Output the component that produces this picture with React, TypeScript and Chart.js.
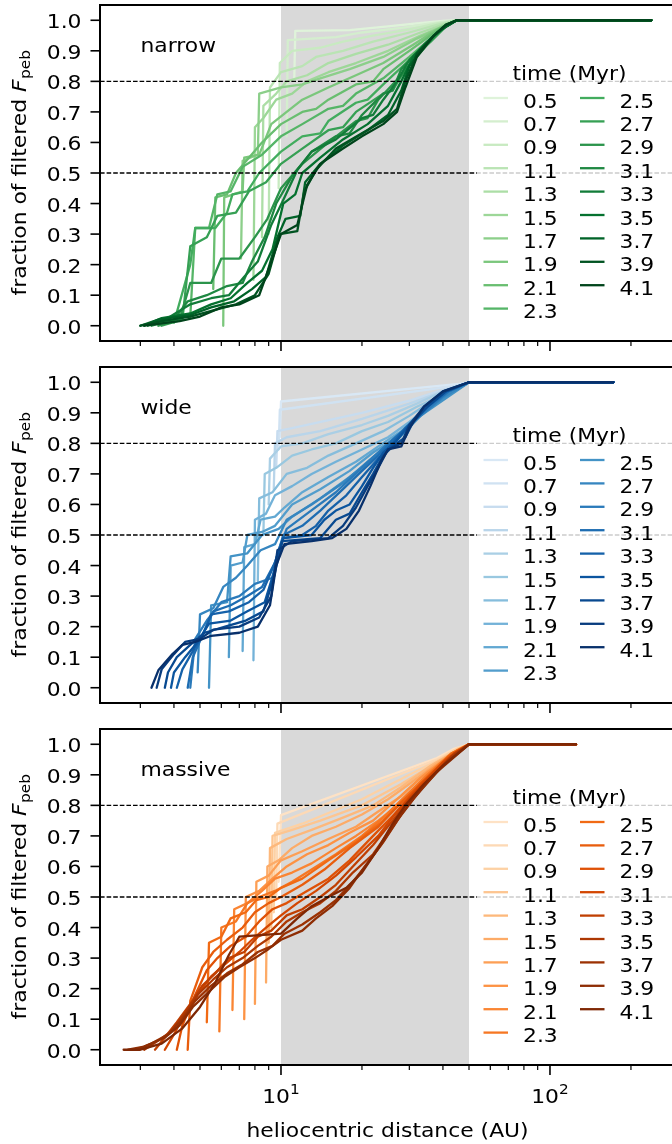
import React, { useEffect, useRef } from "react";
import { Chart, registerables } from "chart.js";
Chart.register(...registerables);

// ---------------- data ----------------
const times = ["0.5","0.7","0.9","1.1","1.3","1.5","1.7","1.9","2.1","2.3","2.5","2.7","2.9","3.1","3.3","3.5","3.7","3.9","4.1"];
const panelNames = ["narrow", "wide", "massive"];
const yTicks = [0, 0.1, 0.2, 0.3, 0.4, 0.5, 0.6, 0.7, 0.8, 0.9, 1.0];
const yTickLabels = ["0.0","0.1","0.2","0.3","0.4","0.5","0.6","0.7","0.8","0.9","1.0"];
const xMajorTicks = [10, 100];
const xMajorExp = ["1", "2"];
const xMinorTicks = [3, 4, 5, 6, 7, 8, 9, 20, 30, 40, 50, 60, 70, 80, 90, 200];
const refLines = [0.8, 0.5];
const shadeRange = [10, 50];
const legendTitle = "time (Myr)";
const xTitle = "heliocentric distance (AU)";

const narrowCurves = [
  [[11.2,0.80],[11.3,0.965],[18,0.968],[25,0.98],[32,0.99],[40,0.998],[45,1],[238,1]],
  [[10.5,0.62],[10.6,0.935],[16,0.945],[20,0.96],[28,0.975],[36,0.99],[44,1],[238,1]],
  [[9.8,0.45],[9.9,0.86],[11,0.90],[14,0.91],[17,0.93],[22,0.95],[30,0.97],[38,0.99],[45,1],[238,1]],
  [[9.0,0.30],[9.1,0.78],[10,0.83],[12,0.85],[13.5,0.88],[17,0.90],[22,0.93],[30,0.96],[38,0.985],[45,1],[238,1]],
  [[8.5,0.29],[8.6,0.72],[9.6,0.76],[10.5,0.80],[12.5,0.82],[15,0.86],[19,0.89],[25,0.92],[33,0.96],[40,0.985],[45,1],[238,1]],
  [[7.9,0.15],[8.0,0.65],[8.6,0.68],[9.6,0.74],[11,0.76],[12.5,0.80],[15,0.83],[19,0.86],[25,0.90],[33,0.95],[40,0.98],[45,1],[238,1]],
  [[7.1,0.22],[7.2,0.54],[8.2,0.56],[8.3,0.76],[10,0.78],[12,0.79],[14,0.81],[18,0.84],[24,0.88],[32,0.94],[40,0.98],[45,1],[238,1]],
  [[6.1,0.0],[6.15,0.42],[7.2,0.44],[7.3,0.55],[8.3,0.56],[9.2,0.66],[10.5,0.70],[12,0.74],[15,0.78],[19,0.82],[24,0.86],[31,0.92],[38,0.97],[45,1],[238,1]],
  [[5.6,0.12],[5.7,0.42],[6.3,0.43],[6.8,0.50],[7.6,0.55],[8.5,0.60],[10,0.66],[12,0.70],[13.5,0.71],[15,0.74],[19,0.79],[22,0.80],[24,0.84],[30,0.90],[36,0.95],[41,0.985],[45,1],[238,1]],
  [[4.6,0.03],[4.8,0.32],[5.4,0.32],[5.8,0.43],[6.5,0.44],[7.2,0.52],[8.5,0.56],[10,0.62],[12,0.66],[15,0.71],[17,0.72],[19,0.76],[24,0.81],[30,0.88],[36,0.94],[41,0.985],[45,1],[238,1]],
  [[4.0,0.01],[4.6,0.20],[4.8,0.32],[5.7,0.32],[6.3,0.37],[6.6,0.43],[7.5,0.44],[8.3,0.50],[10,0.57],[12,0.62],[14,0.63],[15,0.67],[19,0.73],[21,0.74],[24,0.79],[30,0.87],[36,0.93],[41,0.98],[45,1],[238,1]],
  [[3.6,0.0],[4.3,0.02],[4.6,0.26],[5.3,0.29],[5.8,0.36],[6.8,0.37],[7.6,0.44],[8.8,0.47],[10,0.53],[12,0.58],[15,0.64],[17,0.65],[19,0.70],[24,0.76],[26,0.77],[29,0.84],[35,0.92],[41,0.98],[45,1],[238,1]],
  [[3.5,0.0],[4.2,0.02],[4.6,0.14],[5.5,0.14],[6,0.22],[7,0.22],[8,0.29],[8.9,0.35],[10,0.45],[12,0.53],[15,0.60],[19,0.67],[21,0.68],[23,0.74],[28,0.82],[34,0.91],[40,0.975],[45,1],[238,1]],
  [[3.3,0.0],[4.0,0.02],[4.5,0.08],[5.3,0.10],[6.3,0.13],[7.2,0.14],[7.8,0.21],[8.7,0.29],[9.6,0.40],[11,0.49],[13,0.57],[16,0.62],[18,0.63],[20,0.69],[24,0.76],[26,0.77],[28,0.84],[34,0.92],[40,0.975],[45,1],[238,1]],
  [[3.2,0.0],[3.8,0.025],[4.6,0.07],[5.5,0.09],[6.4,0.10],[7.3,0.16],[8.2,0.21],[9.2,0.33],[10.3,0.42],[11.5,0.51],[13,0.57],[16,0.61],[20,0.68],[22,0.69],[24,0.74],[27,0.80],[30,0.87],[35,0.93],[40,0.975],[45,1],[238,1]],
  [[3.1,0.0],[3.6,0.025],[4.6,0.04],[5.5,0.07],[6.5,0.09],[7.5,0.14],[8.5,0.18],[9.3,0.25],[10.2,0.40],[11.3,0.43],[12,0.50],[14,0.55],[17,0.61],[21,0.66],[25,0.72],[28,0.80],[31,0.88],[36,0.94],[41,0.98],[45,1],[238,1]],
  [[3.0,0.0],[3.5,0.02],[4.6,0.035],[5.5,0.06],[6.7,0.08],[7.8,0.12],[8.8,0.16],[9.7,0.29],[10.4,0.35],[11.8,0.36],[12.3,0.47],[14,0.53],[17,0.59],[21,0.64],[25,0.69],[28,0.77],[30,0.85],[33,0.90],[38,0.96],[45,1],[238,1]],
  [[3.0,0.0],[3.6,0.015],[4.6,0.03],[5.6,0.05],[6.8,0.07],[8,0.10],[9,0.17],[9.9,0.30],[11.5,0.31],[12.2,0.44],[13.5,0.51],[16,0.58],[20,0.63],[24,0.67],[27,0.71],[29,0.80],[32,0.89],[37,0.95],[41,0.985],[45,1],[238,1]],
  [[3.1,0.0],[4.2,0.015],[5,0.03],[6,0.06],[7,0.07],[8.3,0.10],[9.2,0.21],[10,0.30],[11.5,0.33],[12.5,0.46],[14,0.53],[17,0.58],[20,0.62],[24,0.66],[27,0.70],[29,0.78],[32,0.88],[37,0.95],[41,0.985],[45,1],[238,1]],
];

const wideCurves = [
  [[9.9,0.82],[10,0.937],[46,0.995],[50,1],[172,1]],
  [[9.8,0.78],[9.9,0.91],[46,0.99],[50,1],[172,1]],
  [[9.6,0.72],[9.7,0.84],[11,0.85],[20,0.90],[30,0.94],[40,0.975],[50,1],[172,1]],
  [[9.4,0.65],[9.5,0.80],[10.5,0.82],[14,0.84],[20,0.88],[30,0.93],[40,0.97],[50,1],[172,1]],
  [[9.0,0.60],[9.1,0.75],[10,0.79],[12,0.80],[15,0.83],[20,0.86],[25,0.89],[32,0.93],[40,0.97],[50,1],[172,1]],
  [[8.6,0.50],[8.7,0.70],[9.6,0.72],[11,0.76],[13,0.78],[16,0.80],[20,0.84],[25,0.87],[32,0.92],[40,0.96],[50,1],[172,1]],
  [[8.2,0.35],[8.3,0.62],[9.3,0.64],[10.5,0.70],[12.5,0.72],[15,0.76],[19,0.80],[24,0.84],[30,0.89],[38,0.95],[50,1],[172,1]],
  [[7.9,0.09],[8.0,0.55],[8.8,0.57],[9.5,0.63],[11,0.66],[13,0.70],[16,0.74],[20,0.78],[25,0.82],[30,0.87],[38,0.94],[50,1],[172,1]],
  [[7.2,0.12],[7.3,0.46],[8.0,0.47],[8.4,0.55],[9.5,0.56],[10.3,0.59],[12,0.64],[15,0.69],[19,0.74],[23,0.79],[28,0.84],[35,0.92],[50,1],[172,1]],
  [[6.4,0.10],[6.5,0.40],[7.2,0.41],[7.5,0.50],[8.5,0.51],[9.5,0.53],[11,0.60],[14,0.65],[18,0.71],[22,0.77],[27,0.82],[33,0.90],[50,1],[172,1]],
  [[5.4,0.0],[5.5,0.27],[6.3,0.28],[6.5,0.43],[7.5,0.44],[8.5,0.50],[9.8,0.52],[11,0.56],[14,0.62],[18,0.69],[22,0.75],[27,0.81],[33,0.89],[50,1],[172,1]],
  [[4.9,0.05],[5.0,0.24],[5.6,0.26],[6.1,0.33],[6.8,0.36],[7.5,0.40],[8.4,0.45],[9.5,0.47],[10.5,0.55],[13,0.60],[17,0.67],[21,0.74],[26,0.81],[32,0.88],[40,0.95],[50,1],[172,1]],
  [[4.6,0.0],[4.8,0.16],[5.3,0.22],[6.0,0.28],[7.0,0.30],[8,0.34],[9.3,0.36],[9.8,0.45],[10.5,0.52],[12.5,0.57],[16,0.64],[20,0.72],[25,0.80],[30,0.86],[36,0.92],[42,0.97],[50,1],[172,1]],
  [[4.5,0.0],[4.7,0.10],[5.1,0.17],[5.6,0.25],[6.5,0.27],[7.5,0.30],[8.5,0.33],[9.5,0.41],[10.2,0.50],[12,0.53],[14,0.58],[17,0.65],[20,0.71],[23,0.76],[26,0.81],[30,0.86],[35,0.92],[42,0.97],[50,1],[172,1]],
  [[4.1,0.0],[4.3,0.06],[4.7,0.12],[5.1,0.17],[5.5,0.24],[6.4,0.25],[7.6,0.28],[8.6,0.32],[9.4,0.40],[10.2,0.49],[12,0.50],[13.5,0.53],[15,0.58],[17.5,0.63],[20,0.69],[23,0.75],[26,0.80],[29,0.85],[34,0.91],[41,0.97],[50,1],[172,1]],
  [[3.9,0.0],[4.0,0.05],[4.4,0.10],[4.9,0.15],[5.4,0.21],[6.5,0.22],[7.5,0.25],[8.7,0.28],[9.5,0.39],[10.2,0.49],[13,0.50],[14.5,0.55],[16,0.58],[18,0.60],[20,0.66],[22,0.72],[24,0.77],[27,0.81],[30,0.86],[35,0.92],[41,0.97],[50,1],[172,1]],
  [[3.7,0.0],[3.8,0.05],[4.1,0.10],[4.6,0.14],[5.2,0.18],[6.2,0.20],[7.4,0.22],[8.6,0.25],[9.4,0.36],[10.1,0.48],[14,0.49],[16,0.55],[18,0.57],[20,0.64],[22,0.70],[24,0.76],[26,0.79],[29,0.82],[31,0.87],[35,0.92],[41,0.97],[50,1],[172,1]],
  [[3.45,0.0],[3.6,0.06],[4.0,0.11],[4.4,0.15],[5.0,0.16],[5.6,0.19],[7.0,0.20],[8.3,0.23],[9.2,0.30],[9.7,0.45],[11,0.48],[15,0.49],[17,0.53],[19,0.59],[21,0.66],[23,0.72],[25,0.78],[28,0.80],[30,0.86],[34,0.92],[40,0.97],[50,1],[172,1]],
  [[3.3,0.0],[3.5,0.057],[3.95,0.11],[4.3,0.14],[4.8,0.15],[5.5,0.17],[7,0.18],[8.2,0.20],[9.1,0.27],[9.6,0.40],[10.3,0.47],[13,0.48],[15.5,0.49],[17.5,0.52],[19.5,0.58],[21.5,0.66],[23.5,0.74],[25,0.78],[28,0.79],[30,0.85],[34,0.92],[40,0.97],[50,1],[172,1]],
];

const massiveCurves = [
  [[9.8,0.55],[10,0.768],[38,0.955],[44,0.985],[50,1],[125,1]],
  [[9.6,0.50],[9.7,0.74],[38,0.95],[44,0.98],[50,1],[125,1]],
  [[9.4,0.45],[9.5,0.71],[12,0.74],[20,0.82],[30,0.90],[38,0.945],[45,0.985],[50,1],[125,1]],
  [[9.2,0.40],[9.3,0.70],[11,0.72],[14,0.75],[20,0.80],[28,0.87],[37,0.935],[45,0.98],[50,1],[125,1]],
  [[9.0,0.35],[9.1,0.66],[10.5,0.69],[13,0.72],[17,0.76],[22,0.80],[28,0.86],[36,0.93],[45,0.98],[50,1],[125,1]],
  [[8.8,0.22],[8.9,0.60],[9.8,0.62],[11,0.66],[13,0.70],[16,0.73],[20,0.77],[25,0.82],[30,0.87],[37,0.93],[45,0.98],[50,1],[125,1]],
  [[8.0,0.15],[8.1,0.55],[9,0.57],[10,0.62],[12,0.65],[15,0.69],[19,0.73],[23,0.78],[28,0.83],[35,0.91],[44,0.97],[50,1],[125,1]],
  [[7.3,0.10],[7.4,0.50],[8.3,0.52],[9.3,0.56],[10.5,0.60],[12.5,0.64],[15,0.67],[18,0.71],[22,0.75],[27,0.82],[33,0.89],[42,0.96],[50,1],[125,1]],
  [[6.6,0.13],[6.7,0.46],[7.5,0.48],[8.5,0.52],[9.5,0.56],[11,0.58],[13,0.61],[16,0.66],[19,0.70],[23,0.75],[28,0.81],[34,0.88],[42,0.96],[50,1],[125,1]],
  [[5.9,0.06],[6.0,0.40],[6.8,0.42],[7.5,0.48],[8.3,0.50],[9.5,0.52],[11,0.55],[13,0.59],[16,0.64],[20,0.70],[24,0.76],[29,0.83],[35,0.90],[43,0.97],[50,1],[125,1]],
  [[5.3,0.09],[5.4,0.35],[6.0,0.37],[6.5,0.43],[7.4,0.45],[8.1,0.49],[9,0.50],[10,0.53],[12,0.56],[15,0.62],[19,0.68],[24,0.75],[29,0.82],[35,0.89],[43,0.97],[50,1],[125,1]],
  [[4.5,0.0],[4.6,0.16],[5.1,0.27],[5.6,0.32],[6.3,0.36],[7.2,0.40],[8,0.45],[9,0.48],[10,0.50],[12,0.54],[14.5,0.59],[18,0.66],[23,0.73],[28,0.81],[34,0.88],[42,0.96],[50,1],[125,1]],
  [[4.1,0.0],[4.3,0.08],[4.8,0.18],[5.3,0.26],[5.8,0.30],[6.5,0.34],[7.4,0.37],[8.3,0.42],[9.3,0.46],[10.5,0.48],[12.5,0.52],[15,0.56],[18,0.62],[22,0.70],[27,0.78],[33,0.87],[41,0.95],[50,1],[125,1]],
  [[3.7,0.0],[4.0,0.05],[4.4,0.12],[4.9,0.18],[5.5,0.24],[6.2,0.28],[7,0.32],[7.8,0.36],[8.8,0.40],[10,0.44],[11.5,0.48],[13.5,0.52],[16,0.57],[19,0.63],[23,0.70],[27,0.78],[32,0.85],[40,0.94],[50,1],[125,1]],
  [[3.4,0.0],[3.7,0.04],[4.1,0.09],[4.6,0.15],[5.1,0.21],[5.7,0.25],[6.4,0.30],[7.3,0.32],[8.2,0.37],[9.2,0.39],[10.5,0.44],[12,0.46],[14,0.50],[16,0.54],[18.5,0.60],[22,0.67],[26,0.75],[30,0.82],[36,0.89],[44,0.97],[50,1],[125,1]],
  [[3.1,0.0],[3.5,0.03],[3.9,0.06],[4.4,0.12],[4.9,0.18],[5.6,0.23],[6.3,0.27],[7.2,0.30],[8.2,0.34],[9.2,0.37],[10.5,0.42],[12,0.45],[14,0.48],[16,0.52],[18.5,0.58],[22,0.64],[25,0.71],[29,0.80],[35,0.88],[43,0.96],[50,1],[125,1]],
  [[2.9,0.0],[3.3,0.02],[3.8,0.05],[4.3,0.10],[4.8,0.16],[5.5,0.21],[6.3,0.25],[7.2,0.28],[8.2,0.32],[9.3,0.34],[10.3,0.38],[12,0.41],[14,0.45],[16,0.49],[18.5,0.55],[21,0.61],[24,0.68],[28,0.77],[33,0.85],[41,0.94],[50,1],[125,1]],
  [[2.7,0.0],[3.1,0.01],[3.7,0.04],[4.2,0.08],[4.7,0.14],[5.4,0.19],[6.2,0.24],[7.0,0.27],[8.0,0.30],[9.0,0.33],[10,0.36],[12,0.39],[13.5,0.43],[15.5,0.47],[18,0.53],[20.5,0.60],[23.5,0.67],[27,0.75],[31,0.82],[38,0.91],[50,1],[125,1]],
  [[2.6,0.0],[3.0,0.0],[3.6,0.02],[4.3,0.07],[5.0,0.14],[5.7,0.22],[6.4,0.31],[7.0,0.37],[10,0.38],[11.5,0.43],[13,0.47],[15,0.50],[17.5,0.53],[20,0.58],[23,0.66],[26,0.74],[29,0.80],[34,0.87],[40,0.93],[50,1],[125,1]],
];

// ---------------- style ----------------
const GREENS = ["#f7fcf5","#e5f5e0","#c7e9c0","#a1d99b","#74c476","#41ab5d","#238b45","#006d2c","#00441b"];
const BLUES = ["#f7fbff","#deebf7","#c6dbef","#9ecae1","#6baed6","#4292c6","#2171b5","#08519c","#08306b"];
const ORANGES = ["#fff5eb","#fee6ce","#fdd0a2","#fdae6b","#fd8d3c","#f16913","#d94801","#a63603","#7f2704"];

const CANVAS_W = 680;
const CANVAS_H = 1144;
const PLOT_LEFT = 100;
const PLOT_RIGHT = 675;
const PANEL_TOPS = [5, 367, 729];
const PANEL_BOTTOMS = [341, 703, 1065];
const X_MIN = 2.124;
const X_MAX = 291.6;
const FS = 19;
const SX = 1.15;
const FONT = '"DejaVu Sans", sans-serif';
const LINE_W = 2.3;

function hexToRgb(h: string) {
  return [parseInt(h.slice(1, 3), 16), parseInt(h.slice(3, 5), 16), parseInt(h.slice(5, 7), 16)];
}
function cmap(stops: string[], t: number) {
  const n = stops.length - 1;
  const p = Math.min(Math.max(t, 0), 1) * n;
  const i = Math.min(Math.floor(p), n - 1);
  const f = p - i;
  const a = hexToRgb(stops[i]);
  const b = hexToRgb(stops[i + 1]);
  const c = a.map((v, k) => Math.round(v + (b[k] - v) * f));
  return `rgb(${c[0]},${c[1]},${c[2]})`;
}

function drawText(ctx: CanvasRenderingContext2D, s: string, x: number, y: number, font: string, align: CanvasTextAlign = "left", rot = 0) {
  ctx.save();
  ctx.translate(x, y);
  if (rot) ctx.rotate(rot);
  ctx.scale(SX, 1);
  ctx.font = font;
  ctx.textAlign = align;
  ctx.textBaseline = "alphabetic";
  ctx.fillStyle = "#000";
  ctx.fillText(s, 0, 0);
  ctx.restore();
}
function textW(ctx: CanvasRenderingContext2D, s: string, font: string) {
  ctx.save();
  ctx.font = font;
  const w = ctx.measureText(s).width * SX;
  ctx.restore();
  return w;
}

const PANELS = [
  { curves: narrowCurves, stops: GREENS },
  { curves: wideCurves, stops: BLUES },
  { curves: massiveCurves, stops: ORANGES },
];

function makePlugin(pi: number, colors: string[]) {
  const T = PANEL_TOPS[pi];
  const isLast = pi === PANELS.length - 1;
  return {
    id: "panelDeco" + pi,
    beforeDatasetsDraw(chart: any) {
      const { ctx, chartArea: a, scales } = chart;
      const xs = scales.x;
      const x0 = xs.getPixelForValue(shadeRange[0]);
      const x1 = xs.getPixelForValue(shadeRange[1]);
      ctx.save();
      ctx.fillStyle = "#d9d9d9";
      ctx.fillRect(x0, a.top, x1 - x0, a.bottom - a.top);
      ctx.restore();
    },
    afterDatasetsDraw(chart: any) {
      const { ctx, chartArea: a, scales } = chart;
      const xs = scales.x;
      const ys = scales.y;
      const font = `${FS}px ${FONT}`;
      const small = `${(FS * 0.7).toFixed(1)}px ${FONT}`;
      ctx.save();
      // reference lines
      ctx.strokeStyle = "#000";
      ctx.lineWidth = 1.3;
      ctx.setLineDash([4.6, 2]);
      refLines.forEach((v) => {
        const py = ys.getPixelForValue(v);
        ctx.beginPath();
        ctx.moveTo(a.left, py);
        ctx.lineTo(a.right, py);
        ctx.stroke();
      });
      ctx.setLineDash([]);

      // legend
      const lx = 477, ly = T + 53, lw = 215, lh = 268;
      ctx.fillStyle = "rgba(255,255,255,0.8)";
      ctx.beginPath();
      if ((ctx as any).roundRect) (ctx as any).roundRect(lx, ly, lw, lh, 4);
      else ctx.rect(lx, ly, lw, lh);
      ctx.fill();
      drawText(ctx, legendTitle, 569.5, T + 74.5, font, "center");
      times.forEach((lab, i) => {
        const col = i < 10 ? 0 : 1;
        const row = i < 10 ? i : i - 10;
        const hx0 = col === 0 ? 483.5 : 580;
        const tx = col === 0 ? 523 : 619.5;
        const hy = T + 93 + row * 23.4;
        ctx.strokeStyle = colors[i];
        ctx.lineWidth = LINE_W;
        ctx.beginPath();
        ctx.moveTo(hx0, hy);
        ctx.lineTo(hx0 + 24.5, hy);
        ctx.stroke();
        drawText(ctx, lab, tx, T + 102.5 + row * 23.4, font, "left");
      });

      // spines
      ctx.strokeStyle = "#000";
      ctx.lineWidth = 2;
      ctx.strokeRect(a.left, a.top, a.right - a.left, a.bottom - a.top);

      // y ticks
      ctx.lineWidth = 1.6;
      yTicks.forEach((v, k) => {
        const py = ys.getPixelForValue(v);
        ctx.beginPath();
        ctx.moveTo(a.left - 9.5, py);
        ctx.lineTo(a.left, py);
        ctx.stroke();
        drawText(ctx, yTickLabels[k], 81.5, py + 8, font, "right");
      });
      // x ticks
      xMajorTicks.forEach((v, k) => {
        const px = xs.getPixelForValue(v);
        ctx.lineWidth = 1.6;
        ctx.beginPath();
        ctx.moveTo(px, a.bottom);
        ctx.lineTo(px, a.bottom + 10);
        ctx.stroke();
        if (isLast) {
          const wb = textW(ctx, "10", font);
          const ws = textW(ctx, xMajorExp[k], small);
          const left = px - (wb + ws) / 2;
          drawText(ctx, "10", left, 1103, font, "left");
          drawText(ctx, xMajorExp[k], left + wb, 1094, small, "left");
        }
      });
      xMinorTicks.forEach((v) => {
        const px = xs.getPixelForValue(v);
        ctx.lineWidth = 1.2;
        ctx.beginPath();
        ctx.moveTo(px, a.bottom);
        ctx.lineTo(px, a.bottom + 5);
        ctx.stroke();
      });

      // panel name
      drawText(ctx, panelNames[pi], 140.5, T + 47, font, "left");

      // y title
      const cy = (a.top + a.bottom) / 2;
      const p1 = "fraction of filtered ";
      const fI = `italic ${FS}px ${FONT}`;
      const w1 = textW(ctx, p1, font);
      const w2 = textW(ctx, "F", fI);
      const w3 = textW(ctx, "peb", small);
      const tot = w1 + w2 + w3;
      ctx.save();
      ctx.translate(25.5, cy);
      ctx.rotate(-Math.PI / 2);
      drawText(ctx, p1, -tot / 2, 0, font, "left");
      drawText(ctx, "F", -tot / 2 + w1, 0, fI, "left");
      drawText(ctx, "peb", -tot / 2 + w1 + w2 + 0.5, 4.5, small, "left");
      ctx.restore();

      if (isLast) {
        drawText(ctx, xTitle, (PLOT_LEFT + PLOT_RIGHT) / 2, 1137, font, "center");
      }
      ctx.restore();
    },
  };
}

export default function App() {
  const r0 = useRef<HTMLCanvasElement>(null);
  const r1 = useRef<HTMLCanvasElement>(null);
  const r2 = useRef<HTMLCanvasElement>(null);
  const refs = [r0, r1, r2];

  useEffect(() => {
    const charts = PANELS.map((p, pi) => {
      const colors = times.map((_, i) => cmap(p.stops, 0.15 + (0.85 * i) / (times.length - 1)));
      const canvas = refs[pi].current as HTMLCanvasElement;
      return new Chart(canvas, {
        type: "scatter",
        data: {
          datasets: p.curves.map((c, i) => ({
            label: times[i],
            data: c.map(([x, y]) => ({ x, y })),
            showLine: true,
            borderColor: colors[i],
            backgroundColor: colors[i],
            borderWidth: LINE_W,
            borderJoinStyle: "round",
            borderCapStyle: "round",
            pointRadius: 0,
            pointHoverRadius: 0,
            tension: 0,
            fill: false,
            order: times.length - i,
          })),
        },
        options: {
          responsive: false,
          animation: false,
          events: [],
          layout: {
            padding: {
              left: PLOT_LEFT,
              right: CANVAS_W - PLOT_RIGHT,
              top: PANEL_TOPS[pi],
              bottom: CANVAS_H - PANEL_BOTTOMS[pi],
            },
          },
          scales: {
            x: { type: "logarithmic", min: X_MIN, max: X_MAX, display: false },
            y: { type: "linear", min: -0.05, max: 1.05, display: false },
          },
          plugins: { legend: { display: false }, tooltip: { enabled: false } },
        },
        plugins: [makePlugin(pi, colors)],
      } as any);
    });
    return () => charts.forEach((c) => c.destroy());
  }, []);

  return (
    <div style={{ position: "absolute", left: 0, top: 0, width: 672, height: 1144, overflow: "hidden", background: "#fff" }}>
      {refs.map((r, i) => (
        <canvas key={i} ref={r} width={CANVAS_W} height={CANVAS_H} style={{ position: "absolute", left: 0, top: 0 }} />
      ))}
    </div>
  );
}
